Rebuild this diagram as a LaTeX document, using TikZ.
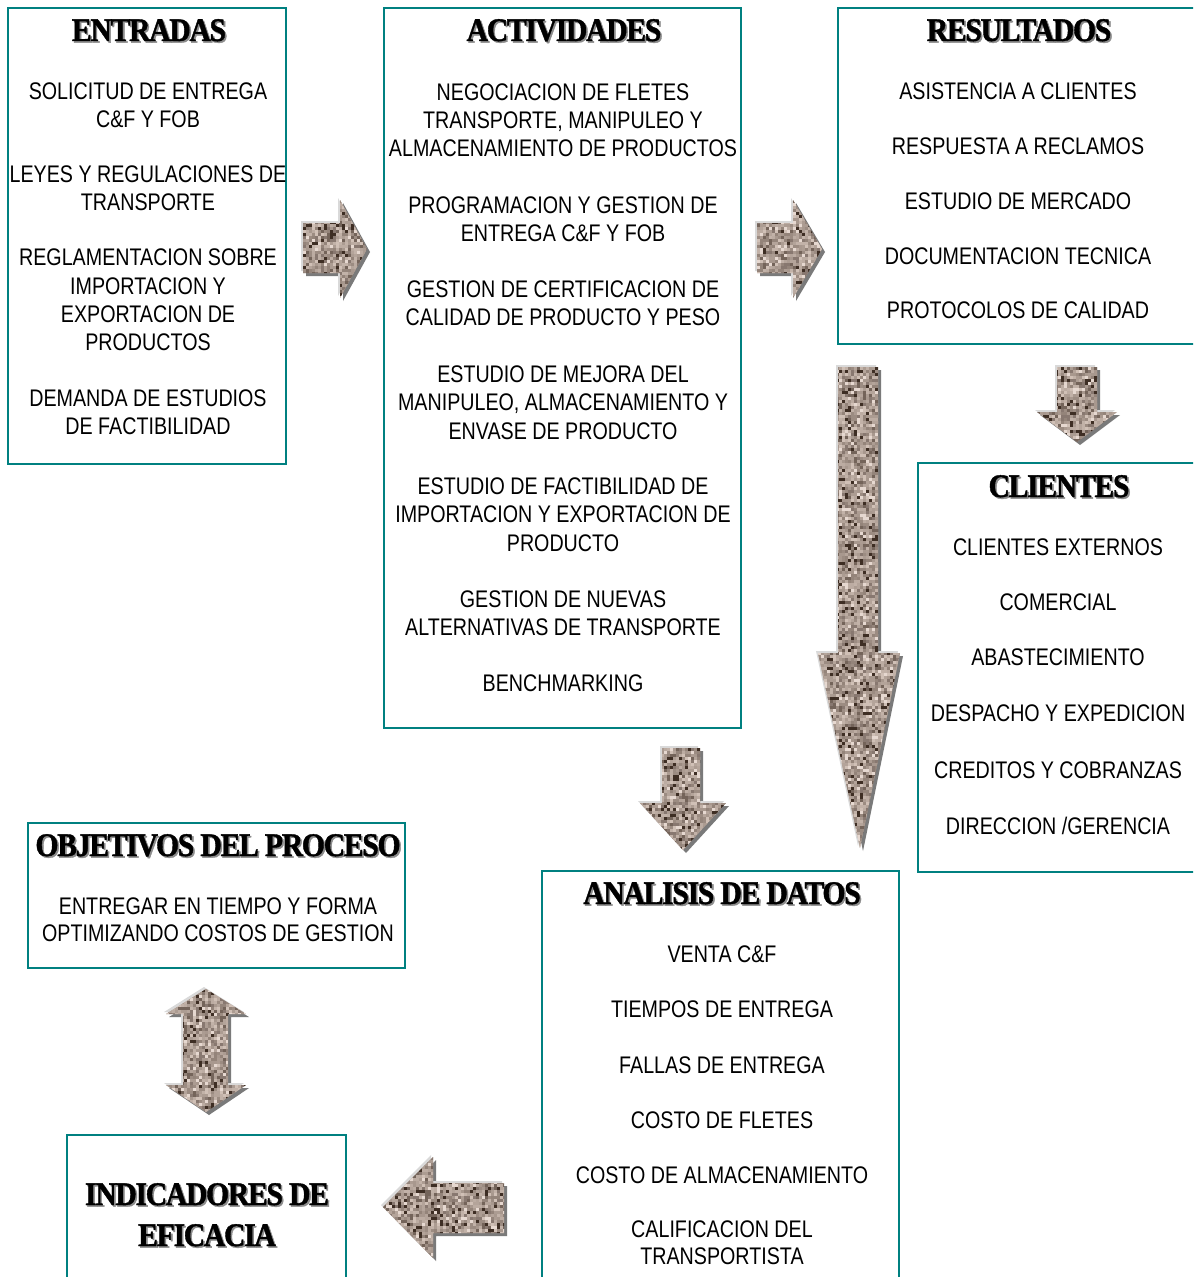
\documentclass[tikz,border=0pt]{standalone}
\usepackage{fontspec}
\newfontfamily\bodyf[FakeStretch=0.82]{Liberation Sans}
\newfontfamily\titlef[FakeStretch=0.9,LetterSpace=-4,FakeBold=1.2]{Liberation Serif}
\definecolor{teal1}{RGB}{0,128,128}
\definecolor{gc1}{HTML}{3E2E24}
\definecolor{gc2}{HTML}{74645A}
\definecolor{gc3}{HTML}{94847A}
\definecolor{gc4}{HTML}{AC9C92}
\definecolor{gc5}{HTML}{BCACA2}
\definecolor{gc6}{HTML}{D0C0B6}
\definecolor{gc7}{HTML}{E6D8D0}
\definecolor{gc8}{HTML}{A8988E}
\definecolor{gc9}{HTML}{C2B2A8}
\definecolor{gc10}{HTML}{9C8C82}
\definecolor{gc11}{HTML}{B4A49A}
\definecolor{gc12}{HTML}{887870}
\definecolor{gshadow}{HTML}{7A7A7A}
\definecolor{glight}{HTML}{D9D9D9}
\tikzset{
  box/.style={draw=teal1, line width=1.5pt, inner sep=0pt, rectangle},
  bodytxt/.style={anchor=base, inner sep=0pt, font=\bodyf\fontsize{18}{21}\selectfont},
  ttl/.style={anchor=base, inner sep=0pt, font=\titlef\bfseries\fontsize{24.75}{30}\selectfont},
  ttlsh/.style={ttl, text=black!45},
}
\newcommand\tline[4]{\node[bodytxt] (#1) at (#2,{#3+8.5}) {#4};}
\newcommand\ttlnode[4]{\node[ttlsh] (#1s) at ({#2+1.6},{#3+12.6}) {#4};\node[ttl] (#1) at (#2,{#3+11}) {#4};}
\newcommand\granite[5]{%
  \fill[gshadow,shift={(3,3)}] #1;
  \fill[glight,shift={(-2,-2)}] #1;
  \begin{scope}
    \clip #1;
    \fill[gc4] (#2,#4) rectangle (#3,#5);
    \pgfmathtruncatemacro\gnx{(#3-#2)/3}
    \pgfmathtruncatemacro\gny{(#5-#4)/3}
    \foreach \gi in {0,...,\gnx}{\foreach \gj in {0,...,\gny}{%
      \pgfmathrandominteger{\gr}{1}{12}%
      \fill[gc\gr] ({#2+3*\gi},{#4+3*\gj}) rectangle +(3,3);
    }}
  \end{scope}}
\begin{document}
\begin{tikzpicture}[x=0.75pt,y=-0.75pt]
\pgfmathsetseed{4242}
\useasboundingbox (0,0) rectangle (1193,1277);
\clip (0,0) rectangle (1193,1277);
\fill[white] (0,0) rectangle (1193,1277);
% boxes
\node[box, minimum width={278*0.75pt}, minimum height={456*0.75pt}] (entr) at (147,236) {};
\node[box, minimum width={357*0.75pt}, minimum height={720*0.75pt}] (act) at (562.5,368) {};
\node[box, minimum width={362*0.75pt}, minimum height={336*0.75pt}] (res) at (1019,176) {};
\node[box, minimum width={282*0.75pt}, minimum height={409*0.75pt}] (cli) at (1059,667.5) {};
\node[box, minimum width={377*0.75pt}, minimum height={145*0.75pt}] (obj) at (216.5,895.5) {};
\node[box, minimum width={357*0.75pt}, minimum height={419*0.75pt}] (ana) at (720.5,1080.5) {};
\node[box, minimum width={279*0.75pt}, minimum height={155*0.75pt}] (ind) at (206.5,1212.5) {};
% titles
\ttlnode{tentr}{149}{30}{ENTRADAS}
\ttlnode{tact}{564}{30}{ACTIVIDADES}
\ttlnode{tres}{1019}{30}{RESULTADOS}
\ttlnode{tcli}{1059}{486}{CLIENTES}
\ttlnode{tobj}{218}{845}{OBJETIVOS DEL PROCESO}
\ttlnode{tana}{722}{893}{ANALISIS DE DATOS}
\ttlnode{tind1}{207}{1194}{INDICADORES DE}
\ttlnode{tind2}{207}{1235}{EFICACIA}
% entradas
\tline{e1}{148}{91}{SOLICITUD DE ENTREGA}
\tline{e2}{148}{119}{C\&F Y FOB}
\tline{e3}{148}{174}{LEYES Y REGULACIONES DE}
\tline{e4}{148}{202}{TRANSPORTE}
\tline{e5}{148}{257}{REGLAMENTACION SOBRE}
\tline{e6}{148}{286}{IMPORTACION Y}
\tline{e7}{148}{314}{EXPORTACION DE}
\tline{e8}{148}{342}{PRODUCTOS}
\tline{e9}{148}{398}{DEMANDA DE ESTUDIOS}
\tline{e10}{148}{426}{DE FACTIBILIDAD}
% actividades
\tline{a1}{563}{92}{NEGOCIACION DE FLETES}
\tline{a2}{563}{120}{TRANSPORTE, MANIPULEO Y}
\tline{a3}{563}{148}{ALMACENAMIENTO DE PRODUCTOS}
\tline{a4}{563}{205}{PROGRAMACION Y GESTION DE}
\tline{a5}{563}{233}{ENTREGA C\&F Y FOB}
\tline{a6}{563}{289}{GESTION DE CERTIFICACION DE}
\tline{a7}{563}{317}{CALIDAD DE PRODUCTO Y PESO}
\tline{a8}{563}{374}{ESTUDIO DE MEJORA DEL}
\tline{a9}{563}{402}{MANIPULEO, ALMACENAMIENTO Y}
\tline{a10}{563}{431}{ENVASE DE PRODUCTO}
\tline{a11}{563}{486}{ESTUDIO DE FACTIBILIDAD DE}
\tline{a12}{563}{514}{IMPORTACION Y EXPORTACION DE}
\tline{a13}{563}{543}{PRODUCTO}
\tline{a14}{563}{599}{GESTION DE NUEVAS}
\tline{a15}{563}{627}{ALTERNATIVAS DE TRANSPORTE}
\tline{a16}{563}{683}{BENCHMARKING}
% resultados
\tline{r1}{1018}{91}{ASISTENCIA A CLIENTES}
\tline{r2}{1018}{146}{RESPUESTA A RECLAMOS}
\tline{r3}{1018}{201}{ESTUDIO DE MERCADO}
\tline{r4}{1018}{256}{DOCUMENTACION TECNICA}
\tline{r5}{1018}{310}{PROTOCOLOS DE CALIDAD}
% clientes
\tline{c1}{1058}{547}{CLIENTES EXTERNOS}
\tline{c2}{1058}{602}{COMERCIAL}
\tline{c3}{1058}{657}{ABASTECIMIENTO}
\tline{c4}{1058}{713}{DESPACHO Y EXPEDICION}
\tline{c5}{1058}{770}{CREDITOS Y COBRANZAS}
\tline{c6}{1058}{826}{DIRECCION /GERENCIA}
% objetivos
\tline{o1}{218}{906}{ENTREGAR EN TIEMPO Y FORMA}
\tline{o2}{218}{933}{OPTIMIZANDO COSTOS DE GESTION}
% analisis
\tline{d1}{722}{954}{VENTA C\&F}
\tline{d2}{722}{1009}{TIEMPOS DE ENTREGA}
\tline{d3}{722}{1065}{FALLAS DE ENTREGA}
\tline{d4}{722}{1120}{COSTO DE FLETES}
\tline{d5}{722}{1175}{COSTO DE ALMACENAMIENTO}
\tline{d6}{722}{1229}{CALIFICACION DEL}
\tline{d7}{722}{1256}{TRANSPORTISTA}
% arrows
\granite{(303,223) -- (340,223) -- (340,200) -- (367,249) -- (340,298) -- (340,273) -- (303,273) -- cycle}{303}{367}{200}{298}
\granite{(757,223) -- (793,223) -- (793,200) -- (822,249) -- (793,298) -- (793,273) -- (757,273) -- cycle}{757}{822}{200}{298}
\granite{(1057,367) -- (1097,367) -- (1097,412) -- (1117,412) -- (1077,442) -- (1037,412) -- (1057,412) -- cycle}{1037}{1117}{367}{442}
\granite{(838,367) -- (878,367) -- (878,653) -- (900,653) -- (860,848) -- (818,653) -- (838,653) -- cycle}{818}{900}{367}{848}
\granite{(662,748) -- (700,748) -- (700,803) -- (726,803) -- (683,850) -- (640,803) -- (662,803) -- cycle}{640}{726}{748}{850}
\granite{(504,1183) -- (504,1233) -- (433,1233) -- (433,1258) -- (383,1207) -- (433,1157) -- (433,1183) -- cycle}{383}{504}{1157}{1258}
\granite{(206,989) -- (246,1014) -- (228,1014) -- (228,1085) -- (246,1085) -- (206,1112) -- (166,1085) -- (183,1085) -- (183,1014) -- (166,1014) -- cycle}{166}{246}{989}{1112}
\end{tikzpicture}
\end{document}
